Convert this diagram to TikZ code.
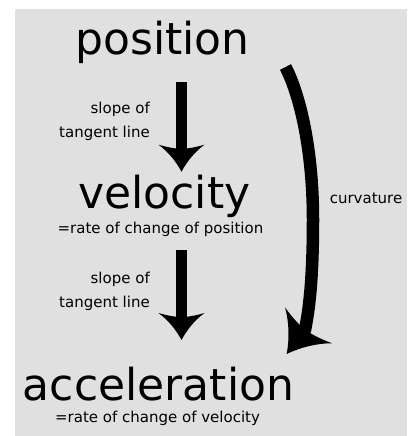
\documentclass[tikz,border=0pt]{standalone}
\usepackage{fontspec}
\setmainfont{DejaVu Sans}
\usetikzlibrary{arrows.meta}
\definecolor{bggray}{RGB}{224,224,224}
\pgfdeclarearrow{
  name = Flare,
  parameters = {\the\pgfarrowlength,\the\pgfarrowwidth},
  setup code = {
    \pgfarrowssettipend{0pt}
    \pgfarrowssetlineend{-0.8\pgfarrowlength}
    \pgfarrowssetvisualbackend{-0.84\pgfarrowlength}
    \pgfarrowssetbackend{-\pgfarrowlength}
    \pgfarrowssavethe\pgfarrowlength
    \pgfarrowssavethe\pgfarrowwidth
  },
  drawing code = {
    \pgfpathmoveto{\pgfqpoint{0pt}{0pt}}
    \pgfpathcurveto{\pgfpoint{-0.4\pgfarrowlength}{0.125\pgfarrowwidth}}{\pgfpoint{-0.75\pgfarrowlength}{0.3\pgfarrowwidth}}{\pgfpoint{-\pgfarrowlength}{0.5\pgfarrowwidth}}
    \pgfpathcurveto{\pgfpoint{-0.9\pgfarrowlength}{0.3\pgfarrowwidth}}{\pgfpoint{-0.86\pgfarrowlength}{0.15\pgfarrowwidth}}{\pgfpoint{-0.84\pgfarrowlength}{0pt}}
    \pgfpathcurveto{\pgfpoint{-0.86\pgfarrowlength}{-0.15\pgfarrowwidth}}{\pgfpoint{-0.9\pgfarrowlength}{-0.3\pgfarrowwidth}}{\pgfpoint{-\pgfarrowlength}{-0.5\pgfarrowwidth}}
    \pgfpathcurveto{\pgfpoint{-0.75\pgfarrowlength}{-0.3\pgfarrowwidth}}{\pgfpoint{-0.4\pgfarrowlength}{-0.125\pgfarrowwidth}}{\pgfqpoint{0pt}{0pt}}
    \pgfpathclose
    \pgfusepathqfill
  },
  defaults = {length=27pt, width=46pt}
}
\tikzset{
  bigword/.style={inner sep=0pt, anchor=base, font=\fontsize{44}{50}\selectfont},
  smallword/.style={inner sep=0pt, anchor=base, font=\fontsize{15}{24}\selectfont},
  slopelabel/.style={inner sep=0pt, anchor=base east, align=right, font=\fontsize{15}{24}\selectfont},
  straightarrow/.style={line width=11pt, -{Flare[length=27pt,width=46pt]}},
  curvearrow/.style={line width=12.5pt, line join=round, -{Flare[length=36pt,width=59pt]}}
}
\begin{document}
\begin{tikzpicture}[x=1pt,y=-1pt]
\useasboundingbox (0,0) rectangle (414,436);
\fill[bggray] (15,9) rectangle (407,436);
\node[bigword] (position) at (162.5,55) {position};
\node[bigword] (velocity) at (164.5,208) {velocity};
\node[bigword] (acceleration) at (158.5,400) {acceleration};
\node[smallword] (ratepos) at (160.5,233) {=rate of change of position};
\node[smallword] (ratevel) at (157.5,422) {=rate of change of velocity};
\node[slopelabel] (slopeA) at (150,137) {slope of\\tangent line};
\node[slopelabel] (slopeB) at (150,307) {slope of\\tangent line};
\node[smallword] (curvature) at (366,203) {curvature};
\coordinate (a1s) at (181.5,82);
\coordinate (a1e) at (181.5,171.7);
\coordinate (a2s) at (181.5,250);
\coordinate (a2e) at (181.5,340);
\coordinate (c1s) at (285.5,67);
\coordinate (c1m) at (313,220);
\coordinate (c1n) at (305,330);
\coordinate (c1e) at (286.7,354);
\draw[straightarrow] (a1s) -- (a1e);
\draw[straightarrow] (a2s) -- (a2e);
\draw[curvearrow] (c1s) .. controls (300,95) and (313,150) .. (c1m) .. controls (313,280) and (309,310) .. (c1n) -- (c1e);
\end{tikzpicture}
\end{document}
